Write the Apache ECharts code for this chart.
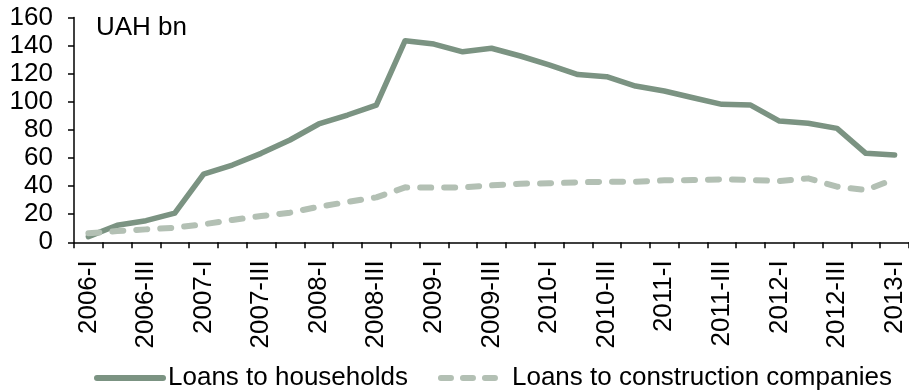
<!DOCTYPE html>
<html>
<head>
<meta charset="utf-8">
<script src="https://cdn.jsdelivr.net/npm/echarts@6/dist/echarts.min.js"></script>
<style>
html,body{margin:0;padding:0;background:#fff;}
#chart{width:909px;height:390px;}
</style>
</head>
<body>
<div id="chart"></div>
<script>
const categories = [
  '2006-I','2006-II','2006-III','2006-IV',
  '2007-I','2007-II','2007-III','2007-IV',
  '2008-I','2008-II','2008-III','2008-IV',
  '2009-I','2009-II','2009-III','2009-IV',
  '2010-I','2010-II','2010-III','2010-IV',
  '2011-I','2011-II','2011-III','2011-IV',
  '2012-I','2012-II','2012-III','2012-IV',
  '2013-I'
];
const households = [
  4.0, 12.1, 15.4, 20.8,
  48.6, 55.0, 63.3, 72.8,
  84.2, 90.6, 97.7, 143.5,
  141.1, 135.6, 138.1, 132.6,
  126.3, 119.4, 117.9, 111.2,
  107.7, 102.9, 98.2, 97.7,
  86.3, 84.7, 81.1, 63.3,
  62.1
];
const construction = [
  6.4, 8.0, 9.2, 10.4,
  12.8, 15.9, 18.7, 21.1,
  25.3, 28.7, 32.0, 39.1,
  38.9, 39.1, 40.6, 41.7,
  42.0, 42.7, 43.1, 43.1,
  44.1, 44.3, 44.8, 44.3,
  43.6, 45.5, 39.6, 37.2,
  45.0
];
const seriesNames = ['Loans to households', 'Loans to construction companies'];
const unitLabel = 'UAH bn';

const font = 'Liberation Sans, Arial, sans-serif';
const solidColor = '#7b9382';
const dashColor = '#b3c0b4';
const chart = echarts.init(document.getElementById('chart'));
chart.setOption({
  animation: false,
  textStyle: { fontFamily: font, color: '#000' },
  title: {
    text: unitLabel,
    left: 91, top: 10,
    textStyle: { fontFamily: font, fontSize: 26, fontWeight: 'normal', color: '#000' }
  },
  legend: {
    left: 89, top: 360,
    itemWidth: 66, itemHeight: 14, itemGap: 30,
    itemStyle: { opacity: 0, borderWidth: 0 },
    textStyle: { fontFamily: font, fontSize: 26, color: '#000' },
    data: [
      { name: seriesNames[0], lineStyle: { color: solidColor, width: 6, cap: 'round' } },
      { name: seriesNames[1], lineStyle: { color: dashColor, width: 6, type: [10, 12], cap: 'round' } }
    ]
  },
  grid: { left: 74, top: 17.5, width: 837, height: 224.8 },
  xAxis: {
    type: 'category',
    data: categories,
    boundaryGap: true,
    axisLine: { lineStyle: { color: '#000', width: 1.5 } },
    axisTick: { show: true, interval: 0, length: 6, lineStyle: { color: '#000', width: 1.5 } },
    axisLabel: { interval: 1, rotate: 90, margin: 18, fontSize: 26, color: '#000', fontFamily: font }
  },
  yAxis: {
    type: 'value',
    min: 0, max: 160, interval: 20,
    splitLine: { show: false },
    axisLine: { show: true, lineStyle: { color: '#000', width: 1.5 } },
    axisTick: { show: true, length: 6, lineStyle: { color: '#000', width: 1.5 } },
    axisLabel: { margin: 21, fontSize: 26, color: '#000', fontFamily: font }
  },
  series: [
    {
      name: seriesNames[0],
      type: 'line',
      data: households,
      symbol: 'none',
      itemStyle: { color: solidColor },
      lineStyle: { color: solidColor, width: 5.5, cap: 'round', join: 'round' }
    },
    {
      name: seriesNames[1],
      type: 'line',
      data: construction,
      symbol: 'none',
      itemStyle: { color: dashColor },
      lineStyle: { color: dashColor, width: 6, type: [11, 13], cap: 'round', join: 'round' }
    }
  ]
});
</script>
</body>
</html>
